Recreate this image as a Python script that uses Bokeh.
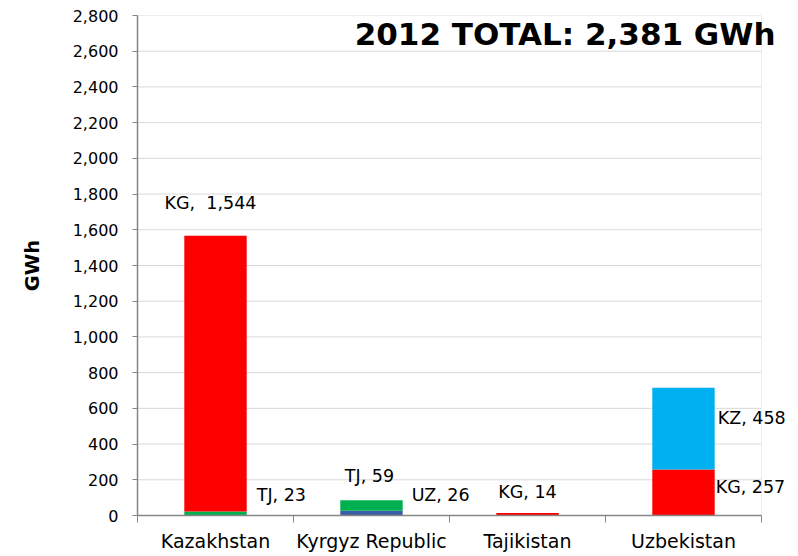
from bokeh.plotting import figure
from bokeh.models import Range1d, FixedTicker, Label, ColumnDataSource, NumeralTickFormatter
from bokeh.embed import file_html
from bokeh.resources import INLINE

countries = ["Kazakhstan", "Kyrgyz Republic", "Tajikistan", "Uzbekistan"]
sources = ["UZ", "TJ", "KG", "KZ"]          # stacking order, bottom to top
UZ = [0, 26, 0, 0]
TJ = [23, 59, 0, 0]
KG = [1544, 0, 14, 257]
KZ = [0, 0, 0, 458]
total_label = "2012 TOTAL: 2,381 GWh"
y_ticks = list(range(0, 2801, 200))

colors = {"UZ": "#3A5DA8", "TJ": "#00B050", "KG": "#FF0000", "KZ": "#00B0F0"}
series = {"UZ": UZ, "TJ": TJ, "KG": KG, "KZ": KZ}

FONT = "DejaVu Sans"
BAR_W = 0.4
N = len(countries)
X_END = 4.186   # frame extends a little past the last category for the overhanging texts

xs = [i + 0.5 for i in range(N)]
src = ColumnDataSource(dict(x=xs, **series))

p = figure(width=798, height=556, x_range=Range1d(0, X_END), y_range=Range1d(0, 2800),
           output_backend="svg", toolbar_location=None,
           min_border_left=137, min_border_right=8, min_border_top=15, min_border_bottom=41)
p.background_fill_color = "white"
p.outline_line_color = None
p.xgrid.visible = False
p.ygrid.visible = False

# horizontal gridlines and right plot-area edge, ending at the last category boundary
p.segment(x0=[0] * len(y_ticks), x1=[N] * len(y_ticks), y0=y_ticks, y1=y_ticks,
          line_color="#D9D9D9", line_width=1)
p.segment(x0=[N], x1=[N], y0=[0], y1=[y_ticks[-1]], line_color="#EDEDED", line_width=1)

p.vbar_stack(sources, x="x", width=BAR_W, source=src,
             color=[colors[s] for s in sources], line_color=None)

# x axis: labels at centers, tick marks at category boundaries
p.xaxis.bounds = (0, N)
p.xaxis.ticker = FixedTicker(ticks=xs, minor_ticks=list(range(N + 1)))
p.xaxis.major_label_overrides = {x: c for x, c in zip(xs, countries)}
p.xaxis.major_tick_out = 0
p.xaxis.major_tick_in = 0
p.xaxis.minor_tick_out = 7
p.xaxis.minor_tick_in = 0
p.xaxis.minor_tick_line_color = "#868686"
p.xaxis.axis_line_color = "#868686"
p.xaxis.axis_line_width = 1.5
p.xaxis.major_label_standoff = 7
p.xaxis.major_label_text_font = FONT
p.xaxis.major_label_text_font_size = "19px"
p.xaxis.major_label_text_color = "#000000"

p.yaxis.ticker = FixedTicker(ticks=y_ticks, minor_ticks=[])
p.yaxis.formatter = NumeralTickFormatter(format="0,0")
p.yaxis.major_tick_out = 5
p.yaxis.major_tick_in = 0
p.yaxis.major_tick_line_color = "#868686"
p.yaxis.axis_line_color = "#868686"
p.yaxis.axis_line_width = 1.5
p.yaxis.major_label_text_font = FONT
p.yaxis.major_label_text_font_size = "16px"
p.yaxis.major_label_text_color = "#000000"
p.yaxis.major_label_standoff = 14
p.yaxis.axis_label = "GWh"
p.yaxis.axis_label_text_font = FONT
p.yaxis.axis_label_text_font_style = "bold"
p.yaxis.axis_label_text_font_size = "19.5px"
p.yaxis.axis_label_text_color = "#000000"
p.yaxis.axis_label_standoff = 26

# data labels: (country index, source, placement, x_offset, y_offset up, separator)
label_specs = [
    (0, "KG", "above", -5, 33, ",\u00a0 "),
    (0, "TJ", "right", 10, 18, ", "),
    (1, "TJ", "above", -2, 24, ", "),
    (1, "UZ", "right", 9, 18, ", "),
    (2, "KG", "above", 0, 21, ", "),
    (3, "KZ", "right", 3, 11, ", "),
    (3, "KG", "right", 1, 6, ", "),
]
for i, s, place, dx, dy, sep in label_specs:
    val = series[s][i]
    below = sum(series[t][i] for t in sources[:sources.index(s)])
    txt = f"{s}{sep}{val:,}"
    if place == "above":
        top = sum(series[t][i] for t in sources)
        lab = Label(x=xs[i], y=top, text=txt, x_offset=dx, y_offset=dy,
                    text_align="center", text_baseline="middle")
    else:
        lab = Label(x=xs[i] + BAR_W / 2, y=below + val / 2, text=txt, x_offset=dx, y_offset=dy,
                    text_align="left", text_baseline="middle")
    lab.text_font = FONT
    lab.text_font_size = "17.5px"
    lab.text_color = "#000000"
    p.add_layout(lab)

title = Label(x=4.09, y=2699, text=total_label, text_align="right", text_baseline="middle",
              text_font=FONT, text_font_style="bold", text_font_size="31px", text_color="#000000")
p.add_layout(title)

open("out.html", "w").write(file_html(p, INLINE))
